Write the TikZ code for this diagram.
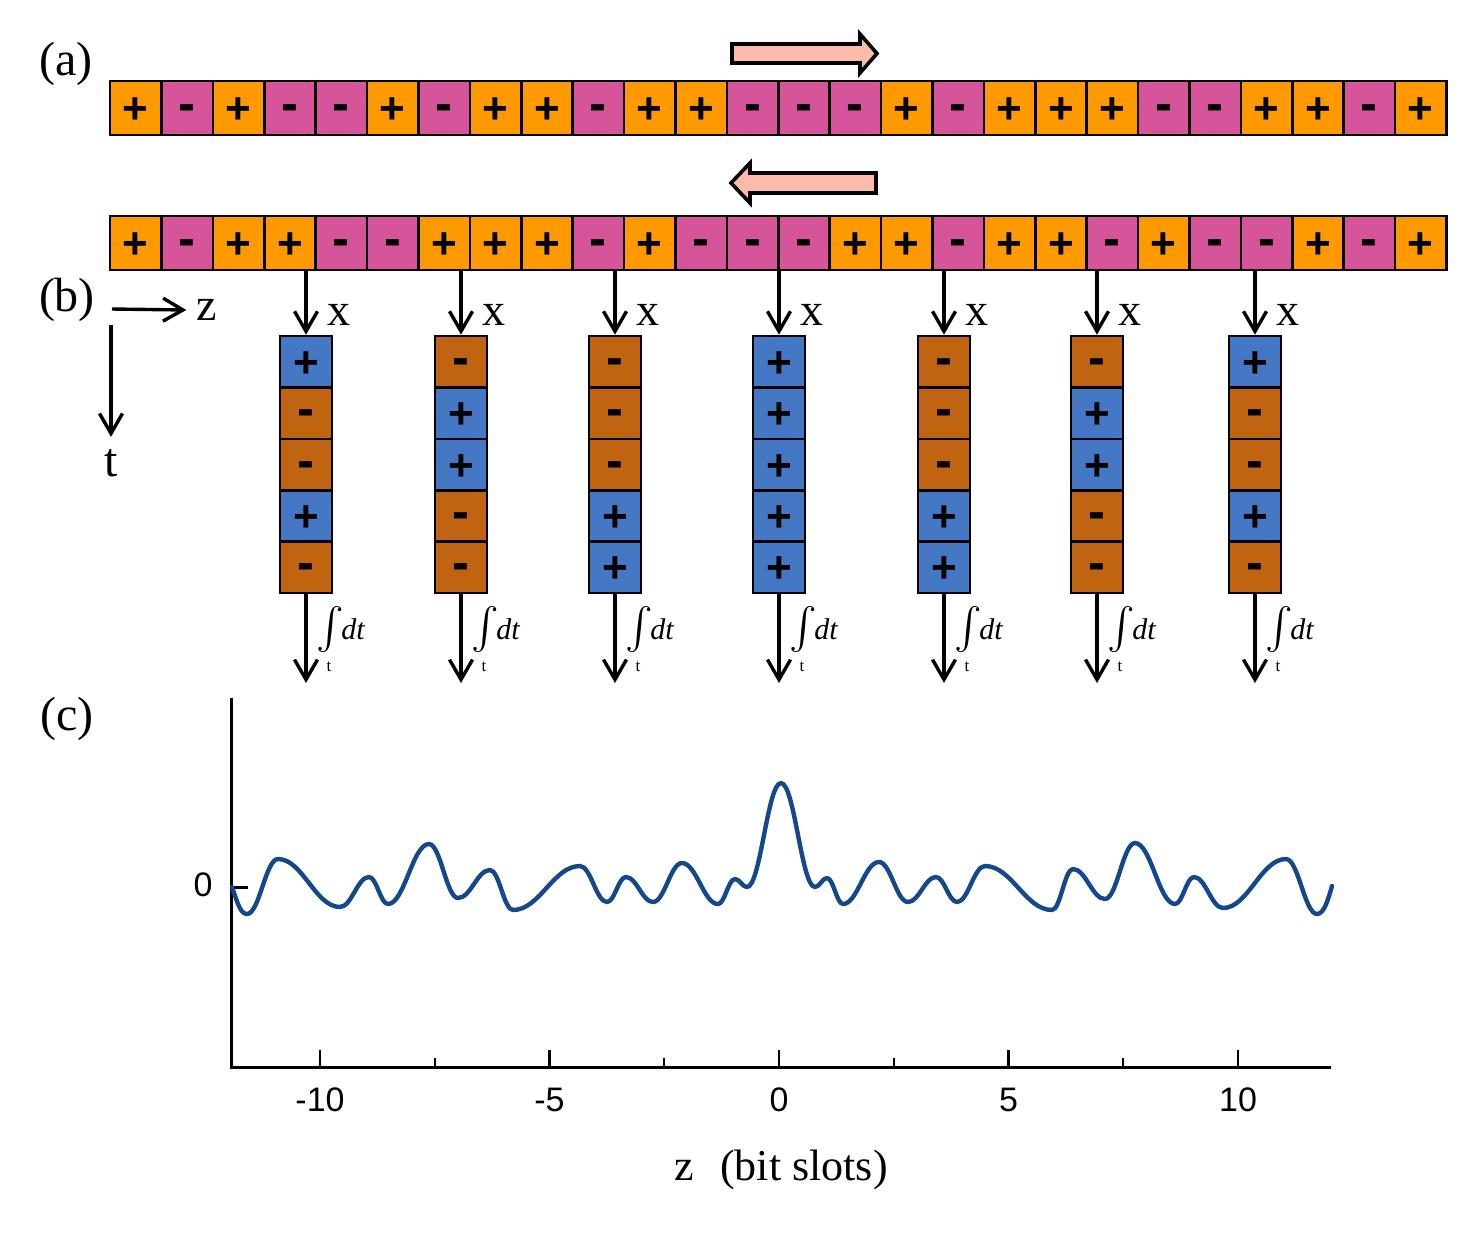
\documentclass[tikz,border=0pt]{standalone}
\usepackage{amsmath}
\usepackage{fontspec}
\setmainfont{Liberation Serif}
\newfontfamily\sansf{Liberation Sans}
\usetikzlibrary{arrows.meta}
\definecolor{orangec}{RGB}{255,153,0}
\definecolor{magc}{RGB}{214,84,153}
\definecolor{bluec}{RGB}{68,120,196}
\definecolor{brownc}{RGB}{192,100,18}
\definecolor{pinkc}{RGB}{255,187,170}
\definecolor{curvec}{RGB}{20,72,140}
\newcommand\cellsym[1]{\if#1+{+}\else\raisebox{1pt}{\scalebox{1.15}[1.2]{-}}\fi}
\tikzset{
  cellbase/.style={draw=black, line width=1.3pt, inner sep=0pt, text height=15.6pt, text depth=0pt,
    font=\sansf\bfseries\fontsize{22}{22}\selectfont},
  hcell/.style={cellbase, minimum width=25.7pt, minimum height=27pt},
  vcell/.style={cellbase, minimum width=26pt, minimum height=25.7pt},
  lbl/.style={font=\fontsize{24}{24}\selectfont, inner sep=0pt},
  xlbl/.style={font=\fontsize{23}{23}\selectfont, inner sep=0pt},
  arr/.style={line width=1.7pt, -{Straight Barb[length=10pt,width=11.5pt,line width=1.7pt]}},
  intsym/.style={font=\fontsize{20}{20}\selectfont, inner sep=0pt},
  dtlbl/.style={font=\itshape\fontsize{15}{15}\selectfont, inner sep=0pt},
  tsub/.style={font=\fontsize{8.5}{8.5}\selectfont, inner sep=0pt},
  blockarrow/.style={draw=black, line width=1.8pt, fill=pinkc, line join=miter},
  axisline/.style={line width=1.5pt, line join=miter},
  tick/.style={line width=1.2pt},
  ticklbl/.style={font=\sansf\fontsize{17}{17}\selectfont, inner sep=0pt},
  curve/.style={draw=curvec, line width=2.2pt, line join=round, line cap=round}
}
\begin{document}
\begin{tikzpicture}[x=0.5pt,y=-0.5pt]
\useasboundingbox (0,0) rectangle (1479,1233);

% labels
\node[lbl] (la) at (66,64) {(a)};
\node[lbl] (lb) at (67,300) {(b)};
\node[lbl] (lc) at (67,719) {(c)};

% row a
\foreach \s [count=\k, evaluate=\k as \xx using 110+51.4*(\k-0.5)] in
  {+,-,+,-,-,+,-,+,+,-,+,+,-,-,-,+,-,+,+,+,-,-,+,+,-,+} {
  \if\s+\def\fc{orangec}\else\def\fc{magc}\fi
  \node[hcell, fill=\fc] (a\k) at (\xx,108) {\cellsym\s};
}
% row b
\foreach \s [count=\k, evaluate=\k as \xx using 110+51.4*(\k-0.5)] in
  {+,-,+,+,-,-,+,+,+,-,+,-,-,-,+,+,-,+,+,-,+,-,-,+,-,+} {
  \if\s+\def\fc{orangec}\else\def\fc{magc}\fi
  \node[hcell, fill=\fc] (b\k) at (\xx,243) {\cellsym\s};
}

% block arrows
\draw[blockarrow] (732,44) -- (860,44) -- (860,34) -- (877,53.5) -- (860,73) -- (860,63) -- (732,63) -- cycle;
\draw[blockarrow] (876,173) -- (750,173) -- (750,163) -- (731,183) -- (750,203) -- (750,193) -- (876,193) -- cycle;

% axes of (b)
\coordinate (zs) at (112,309);
\node[xlbl] (zl) at (207,310) {z};
\draw[arr] (zs) -- ([xshift=-5pt]zl.west);
\coordinate (ts) at (111,325);
\node[lbl] (tl) at (111,463) {t};
\draw[arr] (ts) -- ([yshift=6pt]tl.north);

% columns
\foreach \cx/\seq [count=\i] in {306/{+,-,-,+,-}, 461/{-,+,+,-,-}, 615/{-,-,-,+,+},
    779/{+,+,+,+,+}, 944/{-,-,-,+,+}, 1097/{-,+,+,-,-}, 1255/{+,-,-,+,-}} {
  \foreach \s [count=\j, evaluate=\j as \yy using 336+51.4*(\j-0.5)] in \seq {
    \if\s+\def\fc{bluec}\else\def\fc{brownc}\fi
    \node[vcell, fill=\fc] (c\i-\j) at (\cx,\yy) {\cellsym\s};
  }
  \draw[arr] (c\i-1.north |- b1.south) -- (c\i-1.north);
  \node[xlbl] (x\i) at (\cx+33,315) {x};
  \coordinate (e\i) at (\cx,683);
  \draw[arr] (c\i-5.south) -- (e\i);
  \node[intsym] (int\i) at (\cx+24,630) {$\int$};
  \node[dtlbl] (dt\i) at (\cx+47,629) {dt};
  \node[tsub] (ts\i) at (\cx+23,667) {t};
}

% plot (c)
\coordinate (ytop) at (231,698);
\coordinate (O) at (231,1067);
\coordinate (xend) at (1331,1067);
\draw[axisline] (ytop) -- (O) -- (xend);
\draw[tick, line width=1.5pt] (231,887) -- (248,887);
\node[ticklbl] (zero) at (203,885) {0};
\foreach \v in {-10,-5,0,5,10} {
  \draw[tick] ({779+45.9*\v},1067) -- ++(0,-17);
  \node[ticklbl] at ({779+45.9*\v},1100) {\v};
}
\foreach \v in {-7.5,-2.5,2.5,7.5} {
  \draw[tick] ({779+45.9*\v},1067) -- ++(0,-9);
}
\node[font=\fontsize{22}{22}\selectfont, inner sep=0pt] (zax) at (684,1170) {z};
\node[font=\fontsize{22}{22}\selectfont, inner sep=0pt] (bs) at (804,1170) {(bit slots)};

\draw[curve] (232,887) .. controls (237,901) and (240,914) .. (247,914)
  \foreach \x/\y [remember=\x as \px (initially 247), remember=\y as \py (initially 914)] in
  {278/859, 340/907, 369/877, 388/904, 429/844, 458/898, 490/870, 513/910, 580/866, 607/902,
   626/877, 653/902, 682/863, 718/904, 735/879, 747/887, 781/783, 815/887, 827/878, 843/904,
   879/862, 908/902, 936/877, 957/902, 985/866, 1052/910, 1073/869, 1105/899, 1135/843,
   1175/904, 1194/877, 1223/908, 1286/859, 1317/914}
  { .. controls ({\px+0.4*(\x-\px)},\py) and ({\x-0.4*(\x-\px)},\y) .. (\x,\y) }
  .. controls (1324,914) and (1328,900) .. (1332,886);
\end{tikzpicture}
\end{document}
